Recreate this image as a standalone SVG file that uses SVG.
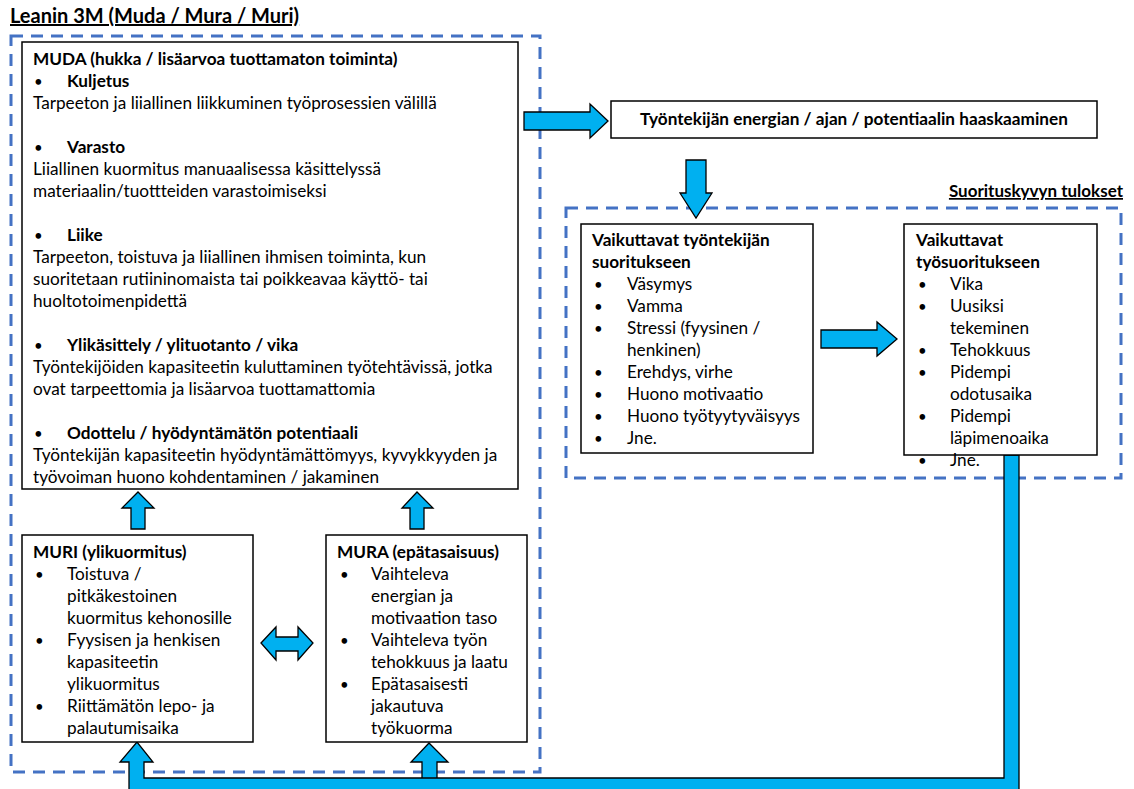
<svg xmlns="http://www.w3.org/2000/svg" width="1134" height="789" viewBox="0 0 1134 789">
  <style>
    text { font-family: Lato, "Liberation Sans", sans-serif; font-size: 17.2px; fill: #000; }
    .b { font-weight: bold; }
    .title { font-weight: bold; font-size: 20px; text-decoration: underline; }
    .sub { font-weight: bold; font-size: 17px; text-decoration: underline; }
    .dot { font-size: 15px; }
    .box { fill: #fff; stroke: #000; stroke-width: 1.5; }
    .group { fill: none; stroke: #4472C4; stroke-width: 3; stroke-dasharray: 12 8; }
    .arrow { fill: #00B0F0; stroke: #000; stroke-width: 1.3; stroke-linejoin: miter; }
    .mid { text-anchor: middle; }
  </style>

  <!-- heading -->
  <text class="title" x="10" y="23">Leanin 3M (Muda / Mura / Muri)</text>
  <text class="sub" x="1123" y="197" text-anchor="end">Suorituskyvyn tulokset</text>

  <!-- dashed groupings -->
  <rect class="group" x="11" y="36" width="529" height="736"/>
  <rect class="group" x="566" y="208" width="555" height="270"/>

  <!-- connectors -->
  <g id="connectors">
    <!-- MUDA to waste box -->
    <path class="arrow" d="M524,112 H590 V104 L608,121 L590,138 V130 H524 Z"/>
    <!-- waste box down to performance -->
    <path class="arrow" d="M686,160 H706 V193 H712 L696,218 L680,193 H686 Z"/>
    <!-- employee performance to work performance -->
    <path class="arrow" d="M821,330 H877 V322 L897,339 L877,356 V348 H821 Z"/>
    <!-- MURI up to MUDA -->
    <path class="arrow" d="M131,529 V508 H122 L138,492 L154,508 H145 V529 Z"/>
    <!-- MURA up to MUDA -->
    <path class="arrow" d="M410,529 V508 H402 L417,492 L433,508 H424 V529 Z"/>
    <!-- MURI <-> MURA -->
    <path class="arrow" d="M261,643 L276,627 V637 H298 V627 L313,643 L298,660 V651 H276 V660 Z"/>
    <!-- feedback from work performance back to MURA -->
    <path class="arrow" d="M422,780 V762 H411 L429,743 L448,762 H437 V780"/>
    <!-- feedback loop from work performance back to MURI -->
    <path class="arrow" d="M1004,455 V778 H144 V762 H153 L137,742 L120,762 H129 V795 H1019 V455 Z"/>
  </g>

  <!-- MUDA -->
  <g id="muda">
    <rect class="box" x="22" y="42" width="496" height="447"/>
    <text class="b" x="33" y="65">MUDA (hukka / lisäarvoa tuottamaton toiminta)</text>
    <text class="dot" x="34" y="87">•</text><text class="b" x="67" y="87">Kuljetus</text>
    <text x="33" y="109">Tarpeeton ja liiallinen liikkuminen työprosessien välillä</text>
    <text class="dot" x="34" y="153">•</text><text class="b" x="67" y="153">Varasto</text>
    <text x="33" y="175">Liiallinen kuormitus manuaalisessa käsittelyssä</text>
    <text x="33" y="197">materiaalin/tuottteiden varastoimiseksi</text>
    <text class="dot" x="34" y="241">•</text><text class="b" x="67" y="241">Liike</text>
    <text x="33" y="263">Tarpeeton, toistuva ja liiallinen ihmisen toiminta, kun</text>
    <text x="33" y="285">suoritetaan rutiininomaista tai poikkeavaa käyttö- tai</text>
    <text x="33" y="307">huoltotoimenpidettä</text>
    <text class="dot" x="34" y="351">•</text><text class="b" x="67" y="351">Ylikäsittely / ylituotanto / vika</text>
    <text x="33" y="373">Työntekijöiden kapasiteetin kuluttaminen työtehtävissä, jotka</text>
    <text x="33" y="395">ovat tarpeettomia ja lisäarvoa tuottamattomia</text>
    <text class="dot" x="34" y="439">•</text><text class="b" x="67" y="439">Odottelu / hyödyntämätön potentiaali</text>
    <text x="33" y="461">Työntekijän kapasiteetin hyödyntämättömyys, kyvykkyyden ja</text>
    <text x="33" y="483">työvoiman huono kohdentaminen / jakaminen</text>
  </g>

  <!-- MURI -->
  <g id="muri">
    <rect class="box" x="22" y="535" width="231" height="207"/>
    <text class="b" x="33" y="558">MURI (ylikuormitus)</text>
    <text class="dot" x="35" y="580">•</text><text x="67" y="580">Toistuva /</text>
    <text x="67" y="602">pitkäkestoinen</text>
    <text x="67" y="624">kuormitus kehonosille</text>
    <text class="dot" x="35" y="646">•</text><text x="67" y="646">Fyysisen ja henkisen</text>
    <text x="67" y="668">kapasiteetin</text>
    <text x="67" y="690">ylikuormitus</text>
    <text class="dot" x="35" y="712">•</text><text x="67" y="712">Riittämätön lepo- ja</text>
    <text x="67" y="734">palautumisaika</text>
  </g>

  <!-- MURA -->
  <g id="mura">
    <rect class="box" x="326" y="535" width="201" height="207"/>
    <text class="b" x="337" y="558">MURA (epätasaisuus)</text>
    <text class="dot" x="340" y="580">•</text><text x="371" y="580">Vaihteleva</text>
    <text x="371" y="602">energian ja</text>
    <text x="371" y="624">motivaation taso</text>
    <text class="dot" x="340" y="646">•</text><text x="371" y="646">Vaihteleva työn</text>
    <text x="371" y="668">tehokkuus ja laatu</text>
    <text class="dot" x="340" y="690">•</text><text x="371" y="690">Epätasaisesti</text>
    <text x="371" y="712">jakautuva</text>
    <text x="371" y="734">työkuorma</text>
  </g>

  <!-- waste of employee resources -->
  <g id="waste">
    <rect class="box" x="611" y="101" width="486" height="37"/>
    <text class="b mid" x="854" y="125">Työntekijän energian / ajan / potentiaalin haaskaaminen</text>
  </g>

  <!-- effects on employee -->
  <g id="employee">
    <rect class="box" x="581" y="224" width="232" height="229"/>
    <text class="b" x="592" y="246">Vaikuttavat työntekijän</text>
    <text class="b" x="592" y="268">suoritukseen</text>
    <text class="dot" x="594" y="290">•</text><text x="627" y="290">Väsymys</text>
    <text class="dot" x="594" y="312">•</text><text x="627" y="312">Vamma</text>
    <text class="dot" x="594" y="334">•</text><text x="627" y="334">Stressi (fyysinen /</text>
    <text x="627" y="356">henkinen)</text>
    <text class="dot" x="594" y="378">•</text><text x="627" y="378">Erehdys, virhe</text>
    <text class="dot" x="594" y="400">•</text><text x="627" y="400">Huono motivaatio</text>
    <text class="dot" x="594" y="422">•</text><text x="627" y="422">Huono työtyytyväisyys</text>
    <text class="dot" x="594" y="444">•</text><text x="627" y="444">Jne.</text>
  </g>

  <!-- effects on work -->
  <g id="work">
    <rect class="box" x="904" y="224" width="193" height="231"/>
    <text class="b" x="916" y="246">Vaikuttavat</text>
    <text class="b" x="916" y="268">työsuoritukseen</text>
    <text class="dot" x="918" y="290">•</text><text x="950" y="290">Vika</text>
    <text class="dot" x="918" y="312">•</text><text x="950" y="312">Uusiksi</text>
    <text x="950" y="334">tekeminen</text>
    <text class="dot" x="918" y="356">•</text><text x="950" y="356">Tehokkuus</text>
    <text class="dot" x="918" y="378">•</text><text x="950" y="378">Pidempi</text>
    <text x="950" y="400">odotusaika</text>
    <text class="dot" x="918" y="422">•</text><text x="950" y="422">Pidempi</text>
    <text x="950" y="444">läpimenoaika</text>
    <text class="dot" x="918" y="466">•</text><text x="950" y="466">Jne.</text>
  </g>
</svg>
